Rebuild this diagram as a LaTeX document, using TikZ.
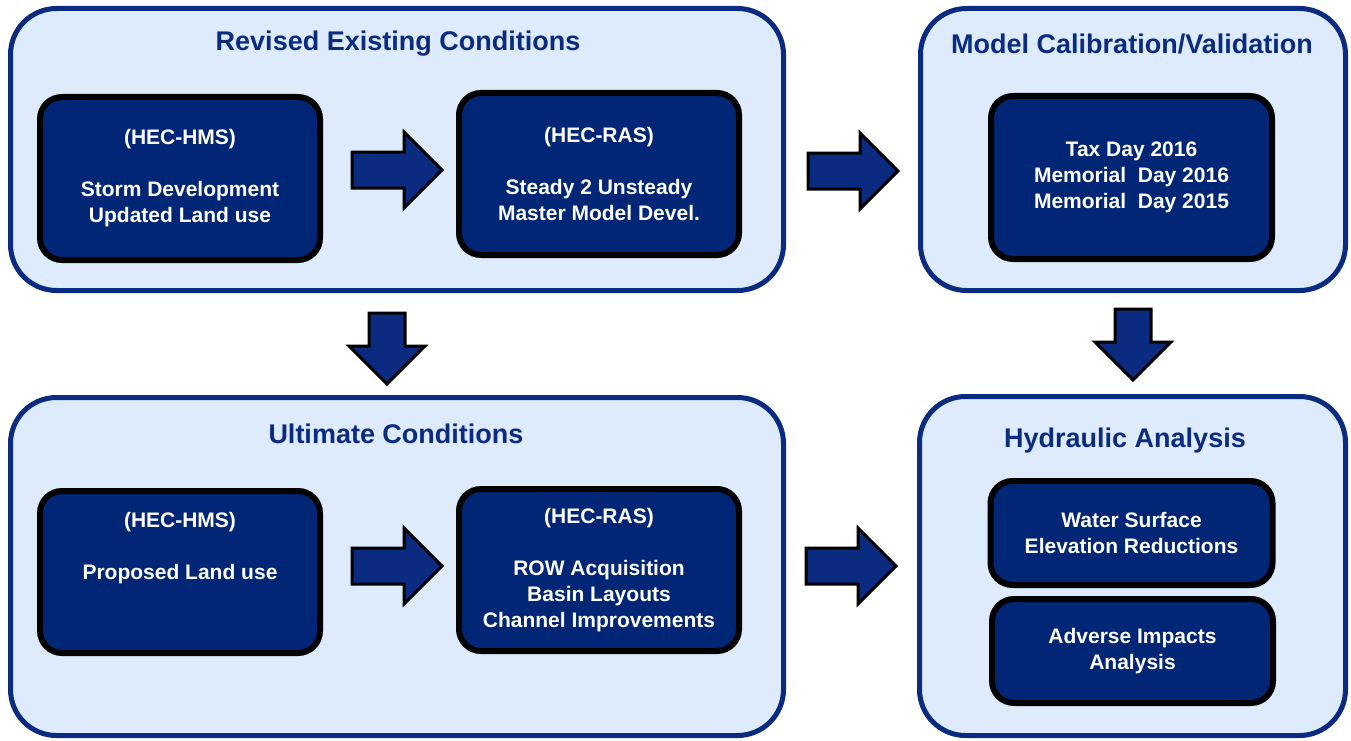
\documentclass[tikz,border=0pt]{standalone}
\usepackage{fontspec}
\setmainfont{Liberation Sans}
\usepackage{xcolor}
\usepackage{tikz}

\definecolor{paneblue}{HTML}{DDEBFC}
\definecolor{panenavy}{HTML}{0B2B80}
\definecolor{stagenavy}{HTML}{002675}

% block arrows, tail/top point and centre line
\newcommand{\rightblock}[2]{%
  \filldraw[blockarrow] (#1,#2) ++(0,-18) -- ++(52,0) -- ++(0,-20) -- ++(38,38)
    -- ++(-38,38) -- ++(0,-20) -- ++(-52,0) -- cycle;}
\newcommand{\downblock}[2]{%
  \filldraw[blockarrow] (#1,#2) ++(-18,0) -- ++(0,33) -- ++(-20,0) -- ++(38,38)
    -- ++(38,-38) -- ++(-20,0) -- ++(0,-33) -- cycle;}

\begin{document}
\begin{tikzpicture}[x=1pt, y=-1pt,
  pane/.style={draw=panenavy, fill=paneblue, line width=5pt, rounded corners=46pt,
    inner sep=0pt},
  panetitle/.style={text=panenavy, font=\bfseries\fontsize{27}{32}\selectfont},
  stage/.style={draw=black, fill=stagenavy, line width=6pt, rounded corners=22pt,
    text=white, align=center, inner sep=0pt,
    font=\bfseries\fontsize{21}{26}\selectfont},
  blockarrow/.style={fill=panenavy, draw=black, line width=3pt, line join=miter}]
\useasboundingbox (0,0) rectangle (1351,741);

% panels
\node[pane, minimum width=773, minimum height=282] (rev) at (397,149.5) {};
\node[pane, minimum width=425, minimum height=282] (calib) at (1133,149.5) {};
\node[pane, minimum width=773, minimum height=338] (ult) at (397,566.5) {};
\node[pane, minimum width=426, minimum height=339] (hyd) at (1132.5,566) {};

\path (398,44) node[panetitle] (revtitle) {Revised Existing Conditions};
\path (1132,44) node[panetitle] (calibtitle) {Model Calibration/Validation};
\path (396,434) node[panetitle] (ulttitle) {Ultimate Conditions};
\path (1125,441) node[panetitle] (hydtitle) {Hydraulic Analysis};

% stages
\node[stage, minimum width=280, minimum height=163] (hmsrev) at (180,178.5)
  {(HEC-HMS)\\ ~\\ Storm Development\\ Updated Land use};
\node[stage, minimum width=280, minimum height=162] (rasrev) at (599,174)
  {(HEC-RAS)\\ ~\\ Steady 2 Unsteady\\ Master Model Devel.};
\node[stage, minimum width=281, minimum height=163] (events) at (1131.5,177.5)
  {Tax Day 2016\\ Memorial\ \ Day 2016\\ Memorial\ \ Day 2015};
\node[stage, minimum width=280, minimum height=162] (hmsult) at (180,572)
  {(HEC-HMS)\\ ~\\ Proposed Land use\\ ~\\ ~};
\node[stage, minimum width=280, minimum height=162] (rasult) at (599,570)
  {(HEC-RAS)\\ ~\\ ROW Acquisition\\ Basin Layouts\\ Channel Improvements};
\node[stage, minimum width=282, minimum height=104] (wse) at (1131.5,533)
  {Water Surface\\ Elevation Reductions};
\node[stage, minimum width=281, minimum height=104] (adverse) at (1132.5,651)
  {Adverse Impacts\\ Analysis};

% arrows
\rightblock{352}{170}
\rightblock{808}{171}
\rightblock{352}{566}
\rightblock{806}{566}
\downblock{387}{313}
\downblock{1133}{309}
\end{tikzpicture}
\end{document}
